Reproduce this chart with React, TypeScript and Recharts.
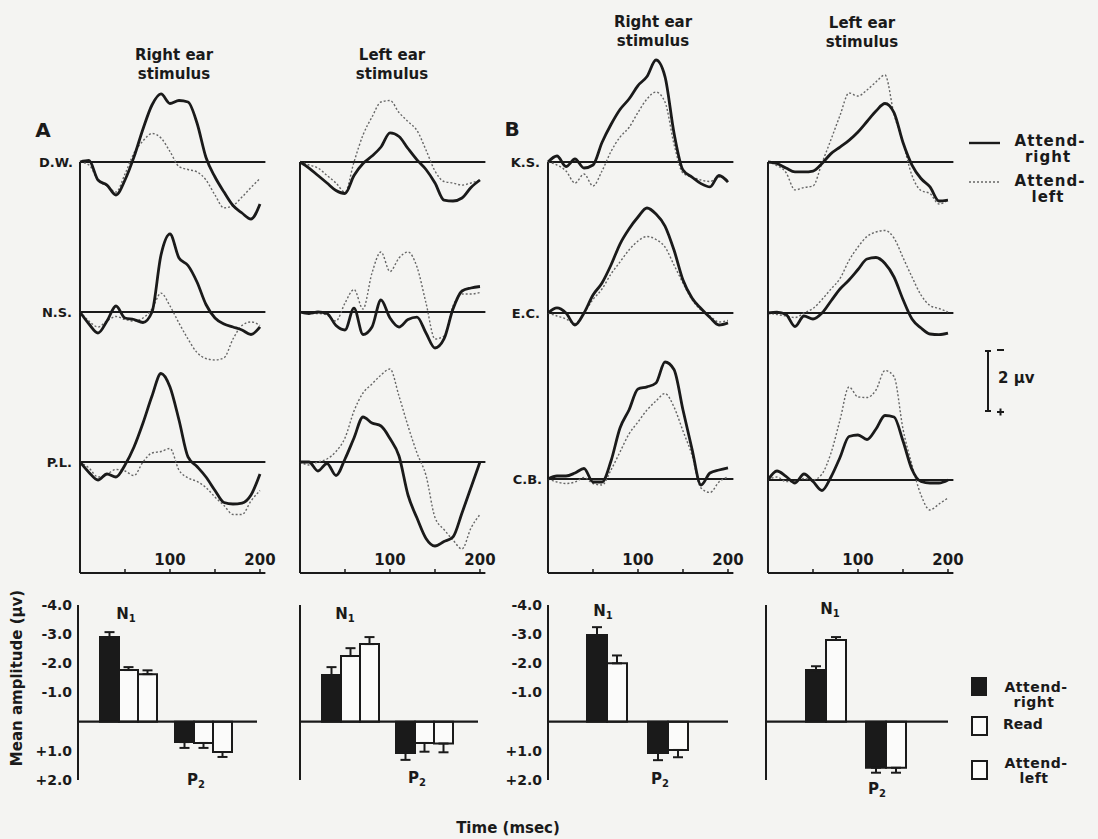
import React from 'react'
import { LineChart, Line, XAxis, YAxis, ReferenceLine, BarChart, Bar, ErrorBar } from 'recharts'

// msec after stimulus
const times = [0, 10, 20, 30, 40, 50, 60, 70, 80, 90, 100, 110, 120, 130, 140, 150, 160, 170, 180, 190, 200]

// evoked potentials in microvolts (negative plotted upward)
// A - right ear stimulus
const aRDwAttR = [0, -0.05, 0.6, 0.77, 1.1, 0.6, -0.17, -1.1, -1.9, -2.27, -1.95, -2.05, -2.0, -1.3, -0.15, 0.5, 1.0, 1.45, 1.7, 1.9, 1.4]
const aRDwAttL = [0, 0.1, 0.6, 0.8, 1.0, 0.4, -0.3, -0.7, -0.95, -0.8, -0.35, 0.15, 0.25, 0.33, 0.6, 1.1, 1.53, 1.45, 1.17, 0.85, 0.55]
const aRNsAttR = [0, 0.4, 0.7, 0.3, -0.2, 0.2, 0.25, 0.35, 0.0, -1.9, -2.6, -1.8, -1.55, -1.0, -0.25, 0.2, 0.4, 0.5, 0.6, 0.75, 0.5]
const aRNsAttL = [0, 0.3, 0.5, 0.3, 0.15, 0.25, 0.3, 0.2, -0.1, -0.63, -0.2, 0.37, 0.9, 1.35, 1.55, 1.6, 1.53, 0.9, 0.45, 0.33, 0.45]
const aRPlAttR = [0, 0.35, 0.6, 0.4, 0.5, 0.1, -0.5, -1.3, -2.2, -2.95, -2.5, -1.4, -0.17, 0.15, 0.5, 0.95, 1.35, 1.4, 1.37, 1.1, 0.4]
const aRPlAttL = [0, 0.2, 0.5, 0.4, 0.25, 0.3, 0.45, 0.0, -0.3, -0.35, -0.45, 0.27, 0.53, 0.65, 0.85, 1.17, 1.45, 1.75, 1.75, 1.3, 0.95]
// A - left ear stimulus
const aLDwAttR = [0, 0.2, 0.45, 0.7, 0.95, 1.05, 0.45, 0.05, -0.2, -0.5, -0.97, -0.85, -0.45, -0.07, 0.25, 0.7, 1.27, 1.3, 1.2, 0.85, 0.6]
const aLDwAttL = [0, 0.1, 0.2, 0.45, 0.7, 1.0, 0.0, -0.9, -1.5, -2.0, -2.05, -1.65, -1.35, -1.05, -0.4, 0.3, 0.65, 0.7, 0.77, 0.7, 0.6]
const aLNsAttR = [0, 0.05, 0.0, 0.05, 0.45, 0.6, -0.13, 0.75, 0.5, -0.4, 0.2, 0.5, 0.25, 0.17, 0.7, 1.2, 0.9, -0.1, -0.7, -0.8, -0.85]
const aLNsAttL = [0, 0.05, 0.05, 0.1, 0.3, -0.3, -0.75, -0.1, -1.3, -2.0, -1.35, -1.8, -2.0, -1.5, -0.3, 0.9, 0.8, -0.2, -0.6, -0.6, -0.65]
const aLPlAttR = [0, 0, 0.3, 0.05, 0.45, -0.1, -0.8, -1.5, -1.3, -1.2, -0.78, -0.2, 1.1, 1.87, 2.55, 2.8, 2.65, 2.5, 1.7, 0.85, 0]
const aLPlAttL = [0, 0.1, 0.0, -0.1, -0.35, -0.8, -1.7, -2.3, -2.6, -2.9, -3.1, -2.2, -1.2, -0.3, 0.45, 1.85, 2.25, 2.6, 2.9, 2.2, 1.75]
// B - right ear stimulus
const bRKsAttR = [0, -0.2, 0.15, -0.1, 0.2, 0.1, -0.65, -1.25, -1.75, -2.1, -2.55, -2.85, -3.4, -2.85, -0.97, 0.27, 0.5, 0.72, 0.83, 0.45, 0.67]
const bRKsAttL = [0, 0.1, 0.3, 0.7, 0.4, 0.8, 0.3, -0.35, -0.83, -1.15, -1.65, -2.1, -2.33, -2.0, -0.6, 0.37, 0.5, 0.6, 0.65, 0.5, 0.6]
const bREcAttR = [0, -0.17, 0.0, 0.4, 0.0, -0.6, -1.0, -1.6, -2.3, -2.8, -3.2, -3.5, -3.3, -2.9, -2.1, -1.1, -0.5, -0.15, 0.15, 0.4, 0.33]
const bREcAttL = [0, 0.1, 0.2, 0.35, 0.0, -0.45, -0.8, -1.3, -1.7, -2.1, -2.4, -2.55, -2.45, -2.2, -1.6, -1.0, -0.45, -0.1, 0.1, 0.3, 0.25]
const bRCbAttR = [0, -0.1, -0.1, -0.2, -0.35, 0.1, 0.1, -0.6, -1.7, -2.3, -3.0, -3.07, -3.2, -3.9, -3.65, -2.3, -1.0, 0.2, -0.2, -0.3, -0.37]
const bRCbAttL = [0, 0.1, 0.15, 0.1, -0.05, 0.15, 0.2, -0.3, -0.9, -1.5, -1.9, -2.3, -2.6, -2.85, -2.4, -1.6, -0.8, 0.3, 0.45, 0.1, -0.07]
// B - left ear stimulus
const bLKsAttR = [0, 0.05, 0.2, 0.33, 0.33, 0.3, 0.05, -0.28, -0.5, -0.72, -1.0, -1.35, -1.7, -1.95, -1.65, -0.65, 0.1, 0.55, 0.83, 1.3, 1.27]
const bLKsAttL = [0, 0.12, 0.35, 0.93, 0.85, 0.8, 0.03, -0.75, -1.55, -2.3, -2.2, -2.4, -2.67, -2.9, -1.6, -0.65, 0.45, 0.95, 1.05, 1.4, 1.27]
const bLEcAttR = [0, -0.03, 0.05, 0.45, 0.1, 0.2, 0.0, -0.4, -0.8, -1.1, -1.45, -1.8, -1.85, -1.65, -1.2, -0.45, 0.2, 0.5, 0.7, 0.72, 0.67]
const bLEcAttL = [0, 0.05, 0.1, 0.15, 0.0, -0.15, -0.45, -0.8, -1.15, -1.75, -2.2, -2.55, -2.7, -2.75, -2.5, -1.85, -1.2, -0.6, -0.25, -0.15, -0.03]
const bLCbAttR = [0, -0.3, -0.12, 0.1, -0.2, 0.05, 0.35, -0.1, -0.75, -1.45, -1.5, -1.35, -1.7, -2.15, -2.1, -1.3, -0.35, 0.05, 0.1, 0.1, 0]
const bLCbAttL = [0, -0.1, 0.05, 0.05, -0.05, 0.0, -0.2, -0.9, -2.0, -3.1, -2.77, -2.75, -3.0, -3.65, -3.45, -1.7, -0.5, 0.5, 1.0, 0.8, 0.6]

const timeTicks = [50, 100, 150, 200]

// mean N1 / P2 amplitudes (µV) and their error bars
const components = ['N1', 'P2']
const aRBarAttR = [-2.9, 0.7]
const aRBarRead = [-1.77, 0.73]
const aRBarAttL = [-1.63, 1.04]
const aRErrAttR = [0.17, 0.2]
const aRErrRead = [0.1, 0.17]
const aRErrAttL = [0.13, 0.17]
const aLBarAttR = [-1.6, 1.07]
const aLBarRead = [-2.25, 0.73]
const aLBarAttL = [-2.66, 0.75]
const aLErrAttR = [0.27, 0.24]
const aLErrRead = [0.27, 0.3]
const aLErrAttL = [0.24, 0.3]
const bRBarAttR = [-2.97, 1.07]
const bRBarAttL = [-2.0, 0.97]
const bRErrAttR = [0.27, 0.25]
const bRErrAttL = [0.27, 0.25]
const bLBarAttR = [-1.77, 1.58]
const bLBarAttL = [-2.8, 1.58]
const bLErrAttR = [0.13, 0.17]
const bLErrAttL = [0.1, 0.17]
const amplitudeTicks = [-4, -3, -2, -1, 1, 2]

const INK = '#1a1a1a'
const DOTTED = '#666'
const PAPER = '#f4f4f2'
const FONT = '"DejaVu Sans", "Liberation Sans", sans-serif'

const UV_PX = 30 // 2 µV calibration = 60 px
const MS_PX = 0.9
const T_MAX = 206
const WAVE_TOP = 20
const WAVE_BOTTOM = 573

type WaveRow = { baseline: number; attR: number[]; attL: number[] }

function WaveColumn({ x0, rows }: { x0: number; rows: WaveRow[] }) {
  const data = times.map((t, i) => {
    const d: Record<string, number> = { t }
    rows.forEach((r, k) => {
      d['r' + k] = r.attR[i]
      d['l' + k] = r.attL[i]
    })
    return d
  })
  const margin = { top: WAVE_TOP, right: 18, bottom: 6, left: 4 }
  const width = margin.left + T_MAX * MS_PX + margin.right
  const height = WAVE_BOTTOM + margin.bottom
  const axisEnd = (WAVE_BOTTOM - rows[0].baseline) / UV_PX
  return (
    <div style={{ position: 'absolute', left: x0 - margin.left, top: 0 }}>
      <LineChart width={width} height={height} data={data} margin={margin}>
        <XAxis
          dataKey="t"
          type="number"
          domain={[0, T_MAX]}
          ticks={timeTicks}
          mirror
          tickSize={4}
          tickMargin={4}
          tickFormatter={(v: number) => (v % 100 === 0 ? String(v) : '')}
          axisLine={{ stroke: INK, strokeWidth: 2 }}
          tickLine={{ stroke: INK, strokeWidth: 1.5 }}
          tick={{ fill: INK, fontSize: 15, fontWeight: 700, fontFamily: FONT }}
        />
        {rows.map((r, k) => (
          <YAxis
            key={'y' + k}
            yAxisId={'y' + k}
            hide
            type="number"
            reversed
            allowDataOverflow
            domain={[(WAVE_TOP - r.baseline) / UV_PX, (WAVE_BOTTOM - r.baseline) / UV_PX]}
          />
        ))}
        <ReferenceLine
          yAxisId="y0"
          segment={[{ x: 0, y: 0 }, { x: 0, y: axisEnd }]}
          stroke={INK}
          strokeWidth={2}
          ifOverflow="visible"
        />
        {rows.map((r, k) => (
          <ReferenceLine key={'b' + k} yAxisId={'y' + k} y={0} stroke={INK} strokeWidth={1.8} />
        ))}
        {rows.map((r, k) => (
          <Line
            key={'l' + k}
            yAxisId={'y' + k}
            dataKey={'l' + k}
            type="monotone"
            stroke={DOTTED}
            strokeWidth={1.4}
            strokeDasharray="2 2"
            dot={false}
            isAnimationActive={false}
          />
        ))}
        {rows.map((r, k) => (
          <Line
            key={'r' + k}
            yAxisId={'y' + k}
            dataKey={'r' + k}
            type="monotone"
            stroke={INK}
            strokeWidth={2.8}
            dot={false}
            isAnimationActive={false}
          />
        ))}
      </LineChart>
    </div>
  )
}

type BarSeries = { key: string; mean: number[]; err: number[]; filled: boolean }

const BAR_TOP = 605
const BAR_BOTTOM = 780
const Y_AXIS_W = 50

function BarPanel({
  axisX,
  endX,
  series,
  pad,
  barSize,
  labelled,
}: {
  axisX: number
  endX: number
  series: BarSeries[]
  pad: { left: number; right: number }
  barSize: number
  labelled: boolean
}) {
  const data = components.map((name, i) => {
    const d: Record<string, unknown> = { name }
    series.forEach((s) => {
      const v = s.mean[i]
      d[s.key] = v
      // one-sided error bar pointing away from the baseline
      d[s.key + 'Err'] = v < 0 ? [s.err[i], 0] : [0, s.err[i]]
    })
    return d
  })
  const margin = { top: 8, right: 6, bottom: 8, left: 0 }
  const width = Y_AXIS_W + (endX - axisX) + margin.right
  const height = margin.top + (BAR_BOTTOM - BAR_TOP) + margin.bottom
  return (
    <div style={{ position: 'absolute', left: axisX - Y_AXIS_W, top: BAR_TOP - margin.top }}>
      <BarChart width={width} height={height} data={data} margin={margin} barGap={0}>
        <XAxis dataKey="name" hide padding={pad} />
        <YAxis
          type="number"
          domain={[-4, 2]}
          reversed
          ticks={amplitudeTicks}
          width={Y_AXIS_W}
          interval={0}
          axisLine={{ stroke: INK, strokeWidth: 2 }}
          tickLine={labelled ? false : { stroke: INK, strokeWidth: 2 }}
          tickSize={3}
          tickMargin={3}
          tick={labelled ? { fill: INK, fontSize: 14, fontWeight: 700, fontFamily: FONT } : false}
          tickFormatter={(v: number) => (v < 0 ? '-' + Math.abs(v).toFixed(1) : '+' + v.toFixed(1))}
        />
        <ReferenceLine y={0} stroke={INK} strokeWidth={2.2} />
        {series.map((s) => (
          <Bar
            key={s.key}
            dataKey={s.key}
            barSize={barSize}
            fill={s.filled ? INK : '#fbfbfa'}
            stroke={INK}
            strokeWidth={2}
            isAnimationActive={false}
          >
            <ErrorBar dataKey={s.key + 'Err'} width={5} stroke={INK} strokeWidth={2} direction="y" />
          </Bar>
        ))}
      </BarChart>
    </div>
  )
}

const textStyle: React.CSSProperties = {
  position: 'absolute',
  fontFamily: FONT,
  fontWeight: 700,
  color: INK,
  whiteSpace: 'nowrap',
  lineHeight: 1,
}

function Txt({
  x,
  y,
  size = 15,
  align = 'center',
  children,
  style,
}: {
  x: number
  y: number
  size?: number
  align?: 'center' | 'right' | 'left'
  children: React.ReactNode
  style?: React.CSSProperties
}) {
  const tx = align === 'center' ? '-50%' : align === 'right' ? '-100%' : '0'
  return (
    <div
      style={{
        ...textStyle,
        left: x,
        top: y,
        fontSize: size,
        textAlign: align,
        transform: `translate(${tx}, -50%)`,
        ...style,
      }}
    >
      {children}
    </div>
  )
}

function Header({ x, y, first }: { x: number; y: number; first: string }) {
  return (
    <Txt x={x} y={y} size={15} style={{ lineHeight: '19px' }}>
      {first}
      <br />
      stimulus
    </Txt>
  )
}

function Comp({ x, y, letter, sub }: { x: number; y: number; letter: string; sub: string }) {
  return (
    <Txt x={x} y={y} size={15}>
      {letter}
      <span style={{ fontSize: 10, verticalAlign: -3 }}>{sub}</span>
    </Txt>
  )
}

export default function App() {
  const aRightRows: WaveRow[] = [
    { baseline: 162, attR: aRDwAttR, attL: aRDwAttL },
    { baseline: 312, attR: aRNsAttR, attL: aRNsAttL },
    { baseline: 462, attR: aRPlAttR, attL: aRPlAttL },
  ]
  const aLeftRows: WaveRow[] = [
    { baseline: 162, attR: aLDwAttR, attL: aLDwAttL },
    { baseline: 312, attR: aLNsAttR, attL: aLNsAttL },
    { baseline: 462, attR: aLPlAttR, attL: aLPlAttL },
  ]
  const bRightRows: WaveRow[] = [
    { baseline: 162, attR: bRKsAttR, attL: bRKsAttL },
    { baseline: 313, attR: bREcAttR, attL: bREcAttL },
    { baseline: 479, attR: bRCbAttR, attL: bRCbAttL },
  ]
  const bLeftRows: WaveRow[] = [
    { baseline: 162, attR: bLKsAttR, attL: bLKsAttL },
    { baseline: 313, attR: bLEcAttR, attL: bLEcAttL },
    { baseline: 480, attR: bLCbAttR, attL: bLCbAttL },
  ]

  return (
    <div
      style={{
        position: 'absolute',
        left: 0,
        top: 0,
        width: 1098,
        height: 839,
        background: PAPER,
        overflow: 'hidden',
      }}
    >
      <WaveColumn x0={80} rows={aRightRows} />
      <WaveColumn x0={300} rows={aLeftRows} />
      <WaveColumn x0={548} rows={bRightRows} />
      <WaveColumn x0={768} rows={bLeftRows} />

      <BarPanel
        axisX={78}
        endX={257}
        pad={{ left: 13, right: 16 }}
        barSize={19}
        labelled
        series={[
          { key: 'attR', mean: aRBarAttR, err: aRErrAttR, filled: true },
          { key: 'read', mean: aRBarRead, err: aRErrRead, filled: false },
          { key: 'attL', mean: aRBarAttL, err: aRErrAttL, filled: false },
        ]}
      />
      <BarPanel
        axisX={300}
        endX={478}
        pad={{ left: 13, right: 17 }}
        barSize={19}
        labelled={false}
        series={[
          { key: 'attR', mean: aLBarAttR, err: aLErrAttR, filled: true },
          { key: 'read', mean: aLBarRead, err: aLErrRead, filled: false },
          { key: 'attL', mean: aLBarAttL, err: aLErrAttL, filled: false },
        ]}
      />
      <BarPanel
        axisX={548}
        endX={728}
        pad={{ left: 28, right: 30 }}
        barSize={20}
        labelled
        series={[
          { key: 'attR', mean: bRBarAttR, err: bRErrAttR, filled: true },
          { key: 'attL', mean: bRBarAttL, err: bRErrAttL, filled: false },
        ]}
      />
      <BarPanel
        axisX={766}
        endX={948}
        pad={{ left: 30, right: 32 }}
        barSize={20}
        labelled={false}
        series={[
          { key: 'attR', mean: bLBarAttR, err: bLErrAttR, filled: true },
          { key: 'attL', mean: bLBarAttL, err: bLErrAttL, filled: false },
        ]}
      />

      {/* column headings */}
      <Header x={174} y={65} first="Right ear" />
      <Header x={392} y={65} first="Left ear" />
      <Header x={653} y={32} first="Right ear" />
      <Header x={862} y={33} first="Left ear" />

      {/* panel letters and subjects */}
      <Txt x={43} y={130} size={20}>A</Txt>
      <Txt x={512} y={129} size={20}>B</Txt>
      <Txt x={73} y={162} size={13} align="right">D.W.</Txt>
      <Txt x={72} y={312} size={13} align="right">N.S.</Txt>
      <Txt x={72} y={462} size={13} align="right">P.L.</Txt>
      <Txt x={540} y={162} size={13} align="right">K.S.</Txt>
      <Txt x={540} y={313} size={13} align="right">E.C.</Txt>
      <Txt x={542} y={479} size={13} align="right">C.B.</Txt>

      {/* waveform legend and calibration */}
      <svg style={{ position: 'absolute', left: 0, top: 0 }} width={1098} height={839}>
        <line x1={969} y1={143} x2={1000} y2={143} stroke={INK} strokeWidth={2.4} />
        <line x1={969} y1={182} x2={1000} y2={182} stroke={DOTTED} strokeWidth={1.4} strokeDasharray="2 2" />
        <line x1={988} y1={351} x2={988} y2={411} stroke={INK} strokeWidth={2} />
        <line x1={985} y1={351} x2={991} y2={351} stroke={INK} strokeWidth={2} />
        <line x1={985} y1={411} x2={991} y2={411} stroke={INK} strokeWidth={2} />
        <line x1={997} y1={350} x2={1004} y2={350} stroke={INK} strokeWidth={2} />
        <line x1={997} y1={412} x2={1004} y2={412} stroke={INK} strokeWidth={2} />
        <line x1={1000.5} y1={408.5} x2={1000.5} y2={415.5} stroke={INK} strokeWidth={2} />
      </svg>
      <Txt x={1050} y={141} size={15} style={{ letterSpacing: 1 }}>Attend-</Txt>
      <Txt x={1048} y={157} size={15} style={{ letterSpacing: 1 }}>right</Txt>
      <Txt x={1050} y={181} size={15} style={{ letterSpacing: 1 }}>Attend-</Txt>
      <Txt x={1048} y={197} size={15} style={{ letterSpacing: 1 }}>left</Txt>
      <Txt x={998} y={378} size={15} align="left">2 μv</Txt>

      {/* bar legend */}
      <div style={{ position: 'absolute', left: 971, top: 677, width: 16, height: 19, background: INK }} />
      <div style={{ position: 'absolute', left: 971, top: 716, width: 13, height: 16, border: `2px solid ${INK}`, background: '#fbfbfa' }} />
      <div style={{ position: 'absolute', left: 971, top: 760, width: 13, height: 16, border: `2px solid ${INK}`, background: '#fbfbfa' }} />
      <Txt x={1036} y={687} size={14} style={{ letterSpacing: 0.5 }}>Attend-</Txt>
      <Txt x={1034} y={702} size={14} style={{ letterSpacing: 0.5 }}>right</Txt>
      <Txt x={1003} y={724} size={14} align="left">Read</Txt>
      <Txt x={1036} y={763} size={14} style={{ letterSpacing: 0.5 }}>Attend-</Txt>
      <Txt x={1034} y={778} size={14} style={{ letterSpacing: 0.5 }}>left</Txt>

      {/* component labels */}
      <Comp x={126} y={615} letter="N" sub="1" />
      <Comp x={196} y={781} letter="P" sub="2" />
      <Comp x={345} y={615} letter="N" sub="1" />
      <Comp x={417} y={779} letter="P" sub="2" />
      <Comp x={603} y={612} letter="N" sub="1" />
      <Comp x={660} y={780} letter="P" sub="2" />
      <Comp x={830} y={610} letter="N" sub="1" />
      <Comp x={877} y={790} letter="P" sub="2" />

      <Txt x={508} y={828} size={15}>Time (msec)</Txt>
      <Txt x={17} y={678} size={15} style={{ transform: 'translate(-50%, -50%) rotate(-90deg)' }}>
        Mean amplitude (μv)
      </Txt>
    </div>
  )
}
